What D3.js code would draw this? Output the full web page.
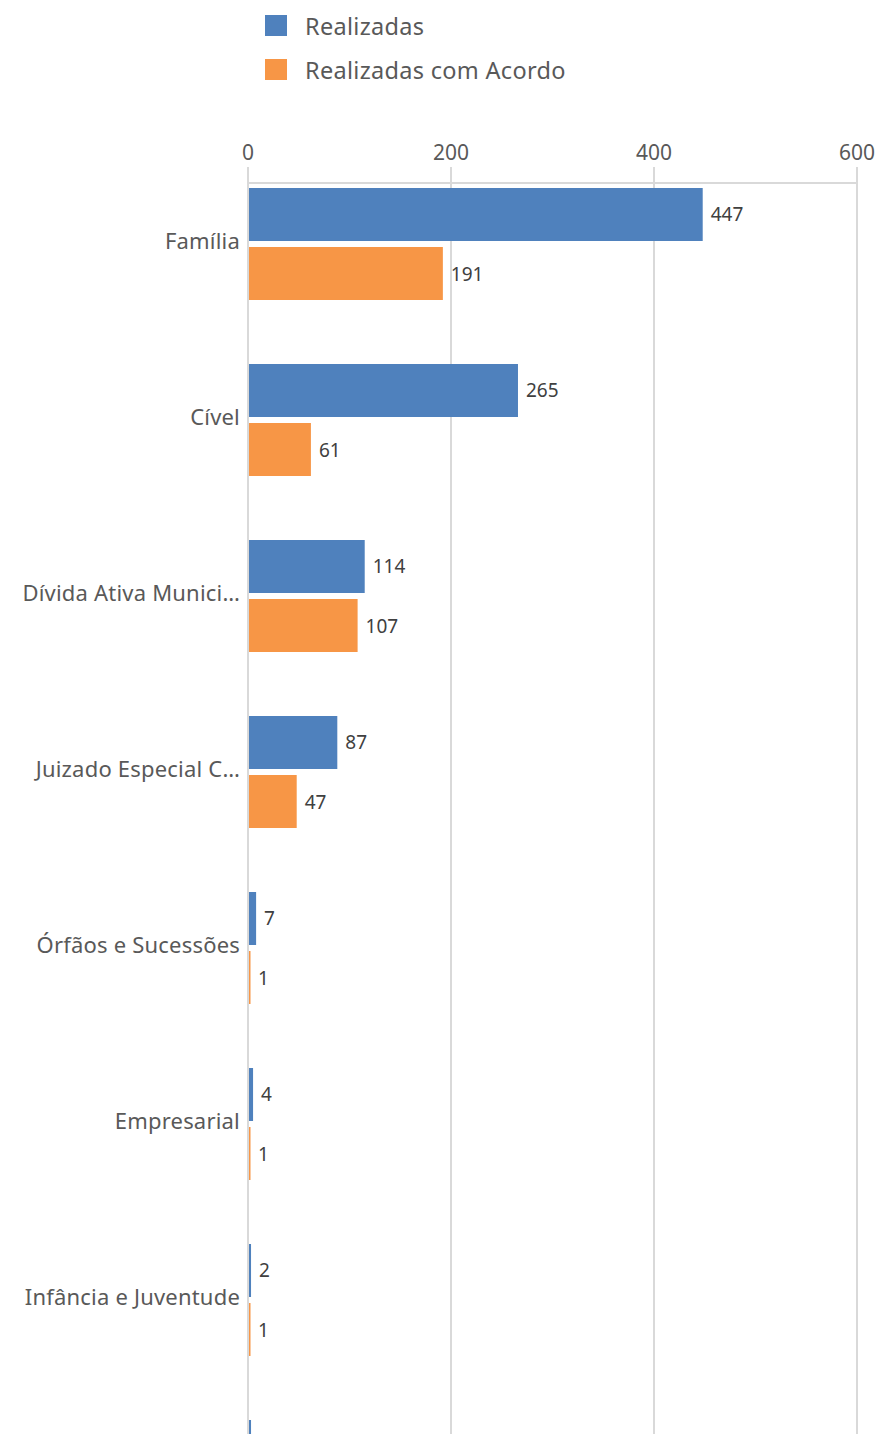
<!DOCTYPE html>
<html>
<head>
<meta charset="utf-8">
<script src="https://cdn.jsdelivr.net/npm/d3@7"></script>
<style>
  body { margin: 0; background: #fff; overflow: hidden; }
  text { font-family: "Noto Sans", sans-serif; }
</style>
</head>
<body>
<div id="chart"></div>
<script>
const categories = ['Família', 'Cível', 'Dívida Ativa Municipal', 'Juizado Especial Cível',
  'Órfãos e Sucessões', 'Empresarial', 'Infância e Juventude', 'Fazenda Pública']
const seriesNames = ['Realizadas', 'Realizadas com Acordo']
const realizadas = [447, 265, 114, 87, 7, 4, 2, 2]
const realizadasAcordo = [191, 61, 107, 47, 1, 1, 1, 0]
const xTicks = [0, 200, 400, 600]

const colors = ['#4f81bd', '#f79646']
const width = 887, height = 1434

const svg = d3.select('#chart')
  .append('svg')
  .attr('width', width)
  .attr('height', height)

// legend
const legend = svg.append('g').attr('class', 'legend')
seriesNames.forEach((name, i) => {
  const g = legend.append('g').attr('transform', `translate(265, ${15 + i * 44})`)
  g.append('rect').attr('width', 22).attr('height', 21).attr('fill', colors[i])
  g.append('text')
    .attr('x', 40).attr('y', 11)
    .attr('dominant-baseline', 'central')
    .attr('font-size', 23.5)
    .attr('letter-spacing', 0.3)
    .attr('fill', '#595959')
    .text(name)
})

const xScale = d3.scaleLinear().domain([0, 600]).range([248, 857])
const yScale = d3.scaleBand().domain(categories).range([156, 156 + 176 * categories.length])
const subScale = d3.scaleBand().domain(seriesNames).range([32, 144]).paddingInner(0.1017)

// grid
svg.append('g').selectAll('line')
  .data(xTicks)
  .join('line')
  .attr('x1', d => xScale(d)).attr('x2', d => xScale(d))
  .attr('y1', 167).attr('y2', height)
  .attr('stroke', '#d9d9d9').attr('stroke-width', 2)

svg.append('line')
  .attr('x1', xScale(0)).attr('x2', xScale(600))
  .attr('y1', 183).attr('y2', 183)
  .attr('stroke', '#d9d9d9').attr('stroke-width', 2)

svg.append('g').selectAll('text')
  .data(xTicks)
  .join('text')
  .attr('x', d => xScale(d)).attr('y', 152)
  .attr('text-anchor', 'middle')
  .attr('dominant-baseline', 'central')
  .attr('font-size', 21)
  .attr('fill', '#595959')
  .text(d => d)

// truncated category labels like the original
const short = {'Dívida Ativa Municipal': 'Dívida Ativa Munici…', 'Juizado Especial Cível': 'Juizado Especial C…'}
const labelY = d => yScale(d) + yScale.bandwidth() / 2 - 4

svg.append('g').selectAll('text')
  .data(categories.filter(d => labelY(d) < height - 10))
  .join('text')
  .attr('x', 240)
  .attr('y', labelY)
  .attr('text-anchor', 'end')
  .attr('dominant-baseline', 'central')
  .attr('font-size', 22)
  .attr('letter-spacing', 0.2)
  .attr('fill', '#595959')
  .text(d => short[d] || d)

const rows = []
categories.forEach((c, i) => {
  rows.push({cat: c, series: seriesNames[0], value: realizadas[i], color: colors[0]})
  rows.push({cat: c, series: seriesNames[1], value: realizadasAcordo[i], color: colors[1]})
})
const barY = d => yScale(d.cat) + subScale(d.series)

const bars = svg.append('g')
bars.selectAll('rect')
  .data(rows.filter(d => d.value > 0))
  .join('rect')
  .attr('x', xScale(0) + 1)
  .attr('y', barY)
  .attr('width', d => Math.max(1.5, xScale(d.value) - xScale(0)))
  .attr('height', subScale.bandwidth())
  .attr('fill', d => d.color)

bars.selectAll('text')
  .data(rows.filter(d => d.value > 0 && barY(d) + subScale.bandwidth() / 2 < height - 10))
  .join('text')
  .attr('x', d => xScale(d.value) + 9)
  .attr('y', d => barY(d) + subScale.bandwidth() / 2)
  .attr('dominant-baseline', 'central')
  .attr('font-size', 19)
  .attr('fill', '#404040')
  .text(d => d.value)
</script>
</body>
</html>
